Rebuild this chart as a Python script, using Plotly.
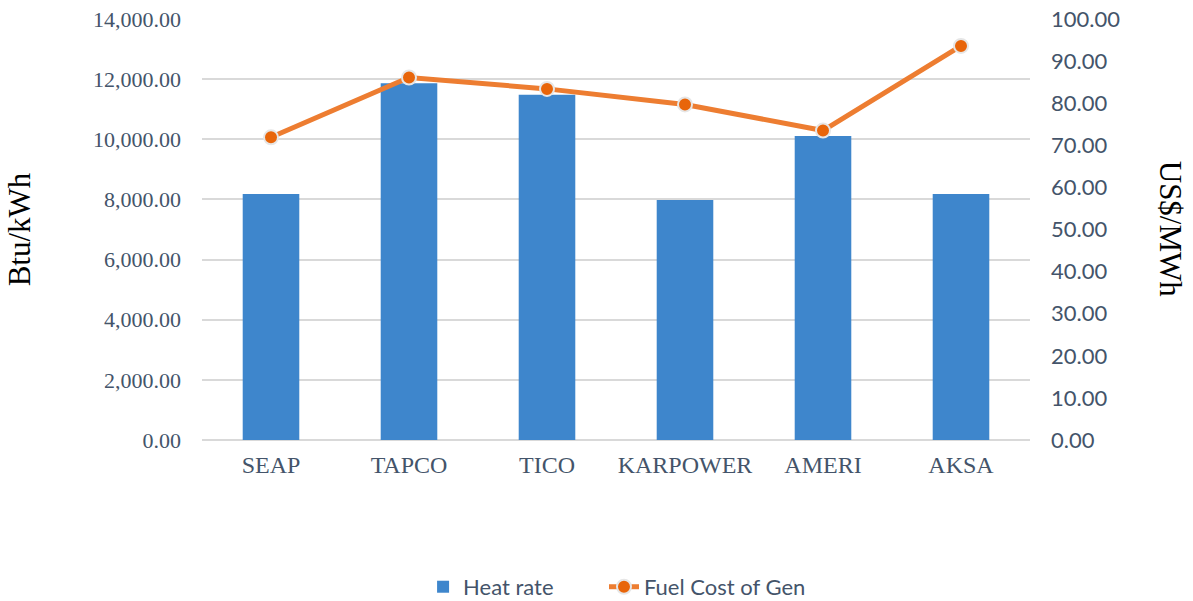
import plotly.graph_objects as go

plants = ["SEAP", "TAPCO", "TICO", "KARPOWER", "AMERI", "AKSA"]
heat_rate = [8180, 11860, 11480, 7980, 10110, 8180]
fuel_cost = [71.9, 86.1, 83.4, 79.7, 73.5, 93.6]

serif = "Liberation Serif, DejaVu Serif, serif"
sans = "Lato, Noto Sans, sans-serif"
txt = "#44546A"

fig = go.Figure()
fig.add_trace(go.Bar(
    x=plants, y=heat_rate, name="Heat rate",
    marker=dict(color="#3E86CC", line=dict(width=0)),
    yaxis="y", legend="legend",
))
fig.add_trace(go.Scatter(
    x=plants, y=fuel_cost, name="Fuel Cost of Gen",
    mode="lines+markers",
    line=dict(color="#ED7D31", width=5),
    marker=dict(color="#E8650A", size=14, line=dict(color="#E6E6E6", width=2)),
    yaxis="y2", legend="legend2",
))

leg_font = dict(family=sans, size=22, color=txt)

fig.update_layout(
    width=1193, height=601,
    margin=dict(l=202, r=163, t=19, b=161, autoexpand=False),
    plot_bgcolor="white", paper_bgcolor="white",
    bargap=0.59,
    showlegend=True,
    legend=dict(orientation="h", x=0.267, y=-0.349,
                xanchor="left", yanchor="middle", font=leg_font),
    legend2=dict(orientation="h", x=0.4855, y=-0.349,
                 xanchor="left", yanchor="middle", font=leg_font),
    xaxis=dict(showgrid=False, showline=False, ticks="", automargin=False,
               ticklabelstandoff=8,
               tickfont=dict(family=serif, size=24, color=txt)),
    yaxis=dict(range=[0, 14000], dtick=2000, tickformat=",.2f", automargin=False,
               showgrid=True, gridcolor="#D9D9D9", gridwidth=1.5,
               zeroline=True, zerolinecolor="#D9D9D9", zerolinewidth=1.5,
               showline=False, ticks="", ticklabelstandoff=20,
               tickfont=dict(family=serif, size=22, color=txt)),
    yaxis2=dict(range=[0, 100], dtick=10, tickformat=".2f", overlaying="y",
                side="right", showgrid=False, zeroline=False, showline=False,
                ticks="", ticklabelstandoff=20, automargin=False,
                tickfont=dict(family=sans, size=22, color=txt)),
    annotations=[
        dict(text="Btu/kWh", xref="paper", yref="paper", x=-0.22, y=0.5,
             xanchor="center", yanchor="middle", textangle=-90, showarrow=False,
             font=dict(family=serif, size=31, color="#000000")),
        dict(text="US$/MWh", xref="paper", yref="paper", x=1.17, y=0.5,
             xanchor="center", yanchor="middle", textangle=90, showarrow=False,
             font=dict(family=serif, size=31, color="#000000")),
    ],
)

fig.write_html("out.html", config={"displayModeBar": False},
               post_script="document.body.style.margin='0';")
